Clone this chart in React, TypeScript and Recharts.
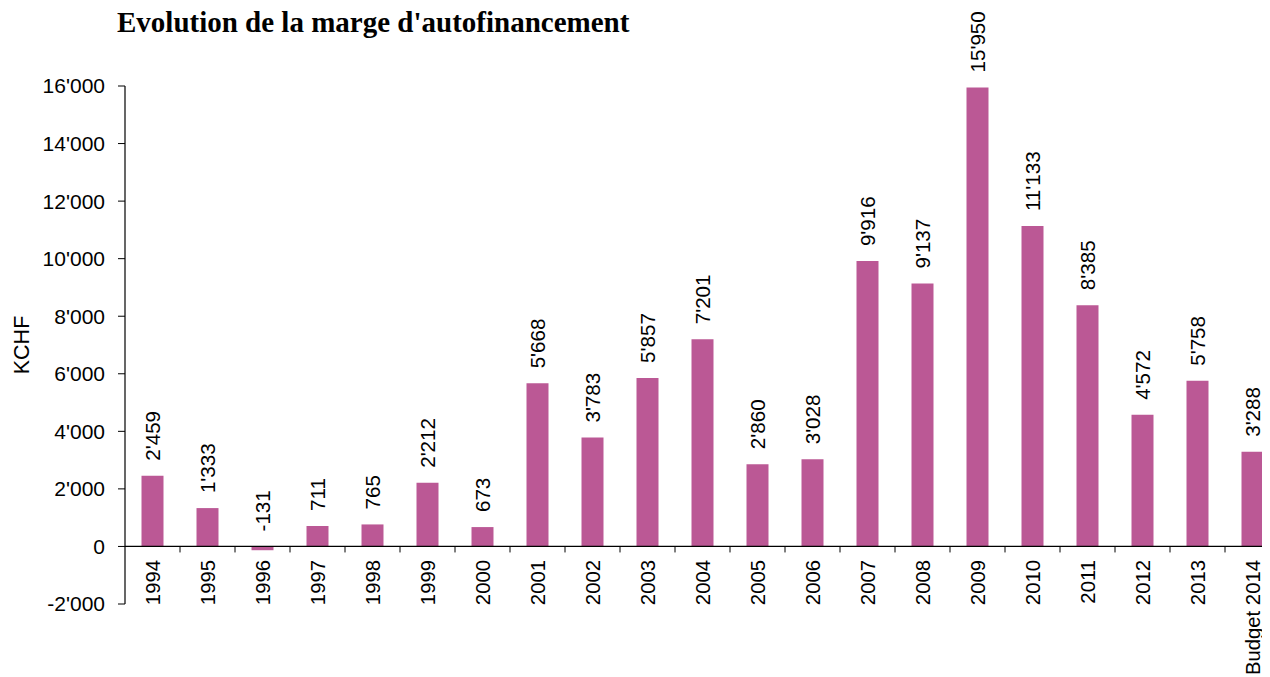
import React from 'react';
import { BarChart, Bar, XAxis, YAxis, ReferenceLine, LabelList, Label } from 'recharts';

const categories = ['1994', '1995', '1996', '1997', '1998', '1999', '2000', '2001', '2002', '2003', '2004', '2005', '2006', '2007', '2008', '2009', '2010', '2011', '2012', '2013', 'Budget 2014'];
const values = [2459, 1333, -131, 711, 765, 2212, 673, 5668, 3783, 5857, 7201, 2860, 3028, 9916, 9137, 15950, 11133, 8385, 4572, 5758, 3288];
const yTicks = [-2000, 0, 2000, 4000, 6000, 8000, 10000, 12000, 14000, 16000];

const data = categories.map((c, i) => ({ year: c, value: values[i] }));

const SANS = '"Liberation Sans", Arial, Helvetica, sans-serif';
const BAR_COLOR = '#bb5895';

const fmt = (v: number) => {
  const s = Math.abs(Math.round(v)).toString().replace(/\B(?=(\d{3})+(?!\d))/g, "'");
  return (v < 0 ? '-' : '') + s;
};

const XTick = (props: any) => {
  const { x, y, payload } = props;
  const ty = y - 44;
  return (
    <text x={x} y={ty} transform={`rotate(-90 ${x} ${ty})`} textAnchor="end" dominantBaseline="central"
      fontSize={20.3} fontFamily={SANS} fill="#000">{payload.value}</text>
  );
};

const BarLabel = (props: any) => {
  const { x, y, width, height, value } = props;
  const top = Math.min(y, y + height);
  const cx = x + width / 2;
  const ty = top - 15;
  return (
    <text x={cx} y={ty} transform={`rotate(-90 ${cx} ${ty})`} textAnchor="start" dominantBaseline="central"
      fontSize={20.6} fontFamily={SANS} fill="#000">{fmt(value)}</text>
  );
};

const ZeroLine = (props: any) => {
  const { x1, y1, x2, y2 } = props;
  const n = categories.length;
  const step = (x2 - x1) / n;
  const ticks = [];
  for (let i = 1; i <= n; i++) {
    const tx = x1 + i * step;
    ticks.push(<line key={i} x1={tx} y1={y1} x2={tx} y2={y1 + 6} stroke="#000" strokeWidth={1} />);
  }
  return (
    <g>
      <line x1={x1} y1={y1} x2={x2} y2={y2} stroke="#000" strokeWidth={1.2} />
      {ticks}
    </g>
  );
};

export default function App() {
  return (
    <div style={{ position: 'relative', width: 1262, height: 669 }}>
      <div style={{ width: 1262, height: 669, overflow: 'hidden' }}>
        <BarChart width={1272} height={669} data={data} margin={{ top: 78, right: 0, bottom: 0, left: 0 }} barCategoryGap="30%">
          <XAxis dataKey="year" interval={0} axisLine={false} tickLine={false} tickSize={0} tickMargin={0} height={73}
            tick={<XTick />} />
          <YAxis width={117} domain={[-2000, 16000]} ticks={yTicks} interval={0} tickFormatter={fmt}
            tickSize={7} tickMargin={13} axisLine={{ stroke: '#000', strokeWidth: 1.2 }} tickLine={{ stroke: '#000' }}
            tick={{ fontSize: 21, fill: '#000', fontFamily: SANS }} allowDataOverflow>
            <Label value="KCHF" angle={-90} position="insideLeft" offset={13}
              style={{ textAnchor: 'middle', fontSize: 21.5, fill: '#000', fontFamily: SANS }} />
          </YAxis>
          <Bar dataKey="value" fill={BAR_COLOR} isAnimationActive={false}>
            <LabelList dataKey="value" content={BarLabel} />
          </Bar>
          <ReferenceLine y={0} stroke="#000" shape={ZeroLine} />
        </BarChart>
      </div>
      <div style={{ position: 'absolute', left: 109, top: -3, fontFamily: '"Liberation Serif", serif', fontWeight: 'bold',
        fontSize: 29, lineHeight: '35px', whiteSpace: 'nowrap', color: '#000' }}>
        Evolution de la marge d'autofinancement
      </div>
    </div>
  );
}
